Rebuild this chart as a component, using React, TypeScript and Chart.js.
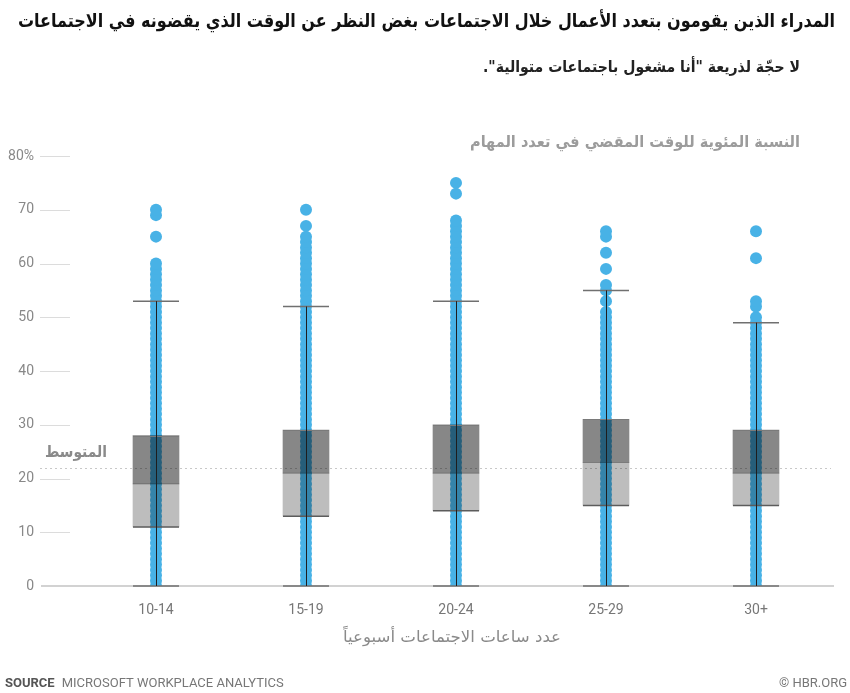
import React, { useEffect, useRef } from 'react';
import { Chart, registerables } from 'chart.js';

Chart.register(...registerables);

// ---------- data ----------
const categories = ['10-14', '15-19', '20-24', '25-29', '30+'];
const q1Values = [11, 13, 14, 15, 15];
const medianValues = [19, 21, 21, 23, 21];
const q3Values = [28, 29, 30, 31, 29];
const whiskerLow = [0, 0, 0, 0, 0];
const whiskerHigh = [53, 52, 53, 55, 49];
const averageValue = 22;
const yTickValues = [0, 10, 20, 30, 40, 50, 60, 70, 80];

const points1014 = [0, 1, 2, 3, 4, 5, 6, 7, 8, 9, 10, 11, 12, 13, 14, 15, 16, 17, 18, 19, 20, 21, 22, 23, 24, 25, 26, 27, 28, 29, 30, 31, 32, 33, 34, 35, 36, 37, 38, 39, 40, 41, 42, 43, 44, 45, 46, 47, 48, 49, 50, 51, 52, 53, 54, 55, 56, 57, 58, 59, 60, 65, 69, 70];
const points1519 = [0, 1, 2, 3, 4, 5, 6, 7, 8, 9, 10, 11, 12, 13, 14, 15, 16, 17, 18, 19, 20, 21, 22, 23, 24, 25, 26, 27, 28, 29, 30, 31, 32, 33, 34, 35, 36, 37, 38, 39, 40, 41, 42, 43, 44, 45, 46, 47, 48, 49, 50, 51, 52, 53, 54, 55, 56, 57, 58, 59, 60, 61, 62, 63, 64, 65, 67, 70];
const points2024 = [0, 1, 2, 3, 4, 5, 6, 7, 8, 9, 10, 11, 12, 13, 14, 15, 16, 17, 18, 19, 20, 21, 22, 23, 24, 25, 26, 27, 28, 29, 30, 31, 32, 33, 34, 35, 36, 37, 38, 39, 40, 41, 42, 43, 44, 45, 46, 47, 48, 49, 50, 51, 52, 53, 54, 55, 56, 57, 58, 59, 60, 61, 62, 63, 64, 65, 66, 67, 68, 73, 75];
const points2529 = [0, 1, 2, 3, 4, 5, 6, 7, 8, 9, 10, 11, 12, 13, 14, 15, 16, 17, 18, 19, 20, 21, 22, 23, 24, 25, 26, 27, 28, 29, 30, 31, 32, 33, 34, 35, 36, 37, 38, 39, 40, 41, 42, 43, 44, 45, 46, 47, 48, 49, 50, 51, 53, 55, 56, 59, 62, 65, 66];
const points30 = [0, 1, 2, 3, 4, 5, 6, 7, 8, 9, 10, 11, 12, 13, 14, 15, 16, 17, 18, 19, 20, 21, 22, 23, 24, 25, 26, 27, 28, 29, 30, 31, 32, 33, 34, 35, 36, 37, 38, 39, 40, 41, 42, 43, 44, 45, 46, 47, 48, 49, 50, 52, 53, 61, 66];
const pointSeries = [points1014, points1519, points2024, points2529, points30];

// ---------- text ----------
const titleText = 'المدراء الذين يقومون بتعدد الأعمال خلال الاجتماعات بغض النظر عن الوقت الذي يقضونه في الاجتماعات';
const subtitleText = 'لا حجّة لذريعة "أنا مشغول باجتماعات متوالية".';
const yAxisTitle = 'النسبة المئوية للوقت المقضي في تعدد المهام';
const xAxisTitle = 'عدد ساعات الاجتماعات أسبوعياً';
const averageLabel = 'المتوسط';
const sourceLabel = 'SOURCE';
const sourceText = 'MICROSOFT WORKPLACE ANALYTICS';
const creditText = '© HBR.ORG';

const DOT = '#48b2e6';
const ARABIC = '"DejaVu Sans", sans-serif';
const LATIN = 'Roboto, "DejaVu Sans", sans-serif';

function drawFitText(
  ctx: CanvasRenderingContext2D,
  text: string,
  right: number,
  cy: number,
  width: number,
  font: string,
  color: string
) {
  ctx.save();
  ctx.font = font;
  ctx.direction = 'rtl';
  ctx.textAlign = 'right';
  ctx.textBaseline = 'middle';
  ctx.fillStyle = color;
  const w = ctx.measureText(text).width;
  const sx = w > 0 ? width / w : 1;
  ctx.translate(right, cy);
  ctx.scale(sx, 1);
  ctx.fillText(text, 0, 0);
  ctx.restore();
}

const decorPlugin = {
  id: 'decor',
  beforeDatasetsDraw(chart: any) {
    const { ctx, scales, chartArea } = chart;
    const y = scales.y;
    const gx0 = chartArea.left - 41;
    ctx.save();
    // short gridlines next to the labels
    ctx.strokeStyle = '#dcdcdc';
    ctx.lineWidth = 1;
    yTickValues.forEach((v) => {
      if (v === 0) return;
      const py = Math.round(y.getPixelForValue(v)) + 0.5;
      ctx.beginPath();
      ctx.moveTo(gx0, py);
      ctx.lineTo(gx0 + 30, py);
      ctx.stroke();
    });
    // baseline
    const y0 = y.getPixelForValue(0);
    ctx.strokeStyle = '#d2d2d2';
    ctx.lineWidth = 2;
    ctx.beginPath();
    ctx.moveTo(gx0 + 1, y0);
    ctx.lineTo(chartArea.right + 3, y0);
    ctx.stroke();
    // average dotted line
    const ya = Math.round(y.getPixelForValue(averageValue)) + 0.5;
    ctx.strokeStyle = '#c8c8c8';
    ctx.lineWidth = 1;
    ctx.setLineDash([2, 3]);
    ctx.beginPath();
    ctx.moveTo(gx0, ya);
    ctx.lineTo(chartArea.right, ya);
    ctx.stroke();
    ctx.restore();
  },
  afterDatasetsDraw(chart: any) {
    const { ctx, scales } = chart;
    const x = scales.x;
    const y = scales.y;
    const half = 23;
    ctx.save();
    categories.forEach((_, i) => {
      const cx = x.getPixelForValue(i);
      const vx = Math.round(cx) + 0.5;
      // box edges
      ctx.strokeStyle = '#7a7a7a';
      ctx.lineWidth = 1;
      const yq3 = Math.round(y.getPixelForValue(q3Values[i])) + 0.5;
      ctx.beginPath();
      ctx.moveTo(cx - half, yq3);
      ctx.lineTo(cx + half, yq3);
      ctx.stroke();
      ctx.strokeStyle = '#5c5c5c';
      ctx.lineWidth = 1.5;
      const yq1 = y.getPixelForValue(q1Values[i]);
      ctx.beginPath();
      ctx.moveTo(cx - half, yq1);
      ctx.lineTo(cx + half, yq1);
      ctx.stroke();
      // caps
      ctx.strokeStyle = '#707070';
      ctx.lineWidth = 1.5;
      [whiskerHigh[i], whiskerLow[i]].forEach((v) => {
        const py = y.getPixelForValue(v);
        ctx.beginPath();
        ctx.moveTo(cx - half, py);
        ctx.lineTo(cx + half, py);
        ctx.stroke();
      });
      // vertical whisker
      ctx.strokeStyle = '#1e1e1e';
      ctx.lineWidth = 1;
      ctx.beginPath();
      ctx.moveTo(vx, y.getPixelForValue(whiskerLow[i]));
      ctx.lineTo(vx, y.getPixelForValue(whiskerHigh[i]));
      ctx.stroke();
    });
    ctx.restore();
  },
  afterDraw(chart: any) {
    const { ctx, scales, chartArea } = chart;
    const y = scales.y;
    drawFitText(ctx, titleText, 835, 22, 817, `bold 19px ${ARABIC}`, '#111111');
    drawFitText(ctx, subtitleText, 800, 68, 317, `bold 16px ${ARABIC}`, '#222222');
    drawFitText(ctx, yAxisTitle, 800, 143, 330, `bold 16px ${ARABIC}`, '#9c9c9c');
    drawFitText(ctx, averageLabel, 107, y.getPixelForValue(averageValue) - 15, 62, `bold 16px ${ARABIC}`, '#8a8a8a');
    drawFitText(ctx, xAxisTitle, 561, 638, 218, `16px ${ARABIC}`, '#8a8a8a');

    ctx.save();
    ctx.textBaseline = 'middle';
    ctx.textAlign = 'left';
    ctx.direction = 'ltr';
    ctx.font = `bold 13px ${LATIN}`;
    ctx.fillStyle = '#555555';
    ctx.fillText(sourceLabel, 5, 684);
    const sw = ctx.measureText(sourceLabel).width;
    ctx.font = `13px ${LATIN}`;
    ctx.fillStyle = '#777777';
    ctx.fillText(sourceText, 5 + sw + 7, 684);
    ctx.textAlign = 'right';
    ctx.fillText(creditText, 847, 684);
    ctx.restore();
  },
};

export default function App() {
  const canvasRef = useRef<HTMLCanvasElement | null>(null);

  useEffect(() => {
    if (!canvasRef.current) return;
    const scatterSets = pointSeries.map((vals, i) => ({
      type: 'scatter' as const,
      data: vals.map((v) => ({ x: categories[i], y: v })),
      backgroundColor: DOT,
      borderColor: DOT,
      borderWidth: 0,
      pointRadius: 6,
      pointHoverRadius: 6,
      order: 2,
    }));
    const chart = new Chart(canvasRef.current, {
      type: 'bar',
      data: {
        labels: categories,
        datasets: [
          {
            type: 'bar',
            data: q3Values.map((v, i) => [medianValues[i], v]),
            backgroundColor: 'rgba(0,0,0,0.47)',
            borderWidth: 0,
            barThickness: 46,
            grouped: false,
            order: 0,
          } as any,
          {
            type: 'bar',
            data: medianValues.map((v, i) => [q1Values[i], v]),
            backgroundColor: 'rgba(0,0,0,0.26)',
            borderWidth: 0,
            barThickness: 46,
            grouped: false,
            order: 1,
          } as any,
          ...scatterSets,
        ],
      },
      options: {
        animation: false,
        responsive: true,
        maintainAspectRatio: false,
        devicePixelRatio: 1,
        layout: { padding: { top: 156, right: 19, left: 0, bottom: 0 } },
        plugins: {
          legend: { display: false },
          tooltip: { enabled: false },
          title: { display: false },
        },
        events: [],
        scales: {
          x: {
            type: 'category',
            labels: categories,
            offset: true,
            grid: { display: false, drawTicks: false },
            border: { display: false },
            ticks: {
              color: '#777777',
              font: { family: 'Roboto', size: 14 },
              padding: 16,
            },
            afterFit: (s: any) => {
              s.height = 107;
            },
          },
          y: {
            type: 'linear',
            min: 0,
            max: 80,
            grid: { display: false, drawTicks: false },
            border: { display: false },
            afterBuildTicks: (s: any) => {
              s.ticks = yTickValues.map((v) => ({ value: v }));
            },
            ticks: {
              color: '#888888',
              font: { family: 'Roboto', size: 14 },
              padding: 47,
              callback: (v: any) => (Number(v) === 80 ? '80%' : String(v)),
            },
            afterFit: (s: any) => {
              s.width = 81;
            },
          },
        },
      },
      plugins: [decorPlugin],
    } as any);
    return () => chart.destroy();
  }, []);

  return (
    <div style={{ position: 'absolute', left: 0, top: 0, width: 850, height: 693, background: '#fff' }}>
      <canvas ref={canvasRef} />
    </div>
  );
}
